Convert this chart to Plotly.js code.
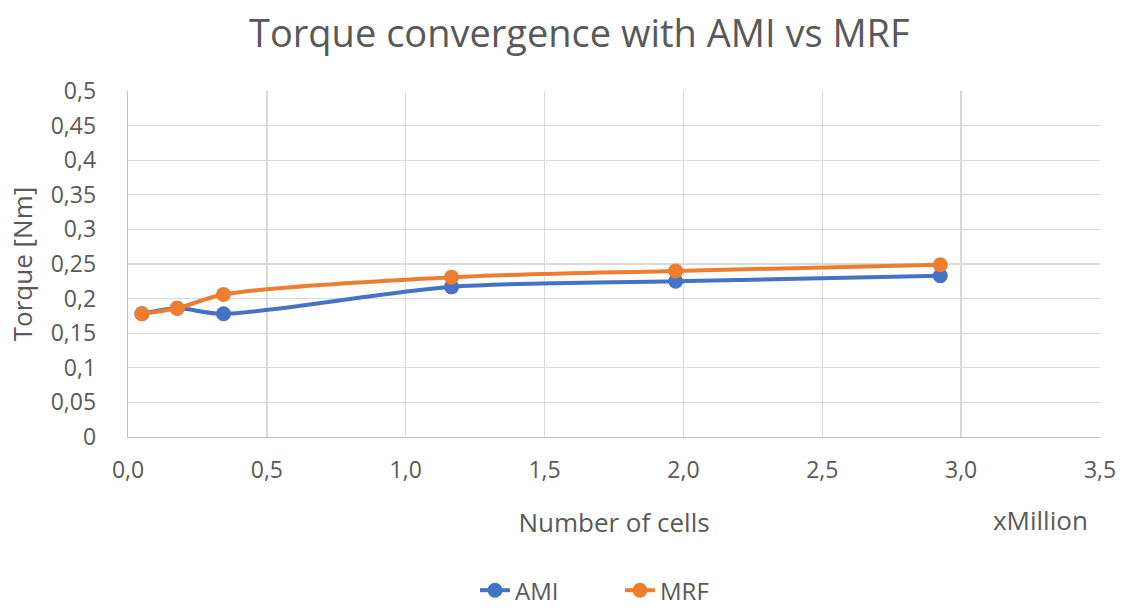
<!DOCTYPE html>
<html><head><meta charset="utf-8">
<script src="https://cdn.plot.ly/plotly-3.0.1.min.js"></script>
<style>html,body{margin:0;padding:0;background:#fff;}#chart{width:1125px;height:612px;}</style>
</head><body><div id="chart"></div>
<script>
const cellsMillion = [0.05, 0.177, 0.344, 1.165, 1.972, 2.925];
const torqueAMI = [0.178, 0.186, 0.178, 0.217, 0.225, 0.233];
const torqueMRF = [0.178, 0.186, 0.206, 0.231, 0.240, 0.249];
const seriesNames = ['AMI', 'MRF'];

const grey = '#595959';
const font = '"Open Sans", "Noto Sans", sans-serif';
const traces = [
  {x: cellsMillion, y: torqueAMI, name: seriesNames[0], mode: 'lines+markers',
   line: {color: '#4472C4', width: 4, shape: 'spline', smoothing: 0.8},
   marker: {color: '#4472C4', size: 15}},
  {x: cellsMillion, y: torqueMRF, name: seriesNames[1], mode: 'lines+markers',
   line: {color: '#ED7D31', width: 4, shape: 'spline', smoothing: 0.8},
   marker: {color: '#ED7D31', size: 15}}
];
const layout = {
  width: 1125, height: 612,
  margin: {l: 128, r: 25, t: 91, b: 175, autoexpand: false},
  separators: ',.',
  font: {family: font, color: grey, size: 23},
  title: {text: 'Torque convergence with AMI vs MRF', font: {size: 38, color: grey}, x: 0.515, xanchor: 'center', y: 0.945, yanchor: 'middle'},
  xaxis: {range: [0, 3.5], dtick: 0.5, tick0: 0, tickformat: '.1f', showgrid: true, gridcolor: '#d9d9d9', gridwidth: 1.3,
    showline: true, linecolor: '#bfbfbf', linewidth: 1.3, zeroline: false, ticks: '', ticklabelstandoff: 12,
    automargin: false, tickfont: {size: 23, color: grey},
    title: {text: 'Number of cells', font: {size: 26, color: grey}, standoff: 30}},
  yaxis: {range: [0, 0.5], dtick: 0.05, tick0: 0, showgrid: true, gridcolor: '#d9d9d9', gridwidth: 1.3,
    showline: true, linecolor: '#bfbfbf', linewidth: 1.3, zeroline: false, ticks: '', ticklabelstandoff: 26,
    automargin: false, tickfont: {size: 23, color: grey},
    title: {text: 'Torque [Nm]', font: {size: 26, color: grey}, standoff: 10}},
  showlegend: true,
  legend: {orientation: 'h', xref: 'paper', x: (475 - 128) / 972, xanchor: 'left', yref: 'container', y: 0.035, yanchor: 'middle',
    entrywidth: 100, entrywidthmode: 'pixels', font: {size: 24, color: grey}},
  annotations: [{text: 'xMillion', xref: 'paper', yref: 'paper', x: (1040 - 128) / 972, y: -0.24, xanchor: 'center', yanchor: 'middle', showarrow: false, font: {size: 26, color: grey}}],
  plot_bgcolor: '#fff', paper_bgcolor: '#fff'
};
Plotly.newPlot('chart', traces, layout, {displayModeBar: false, staticPlot: true});
</script></body></html>
